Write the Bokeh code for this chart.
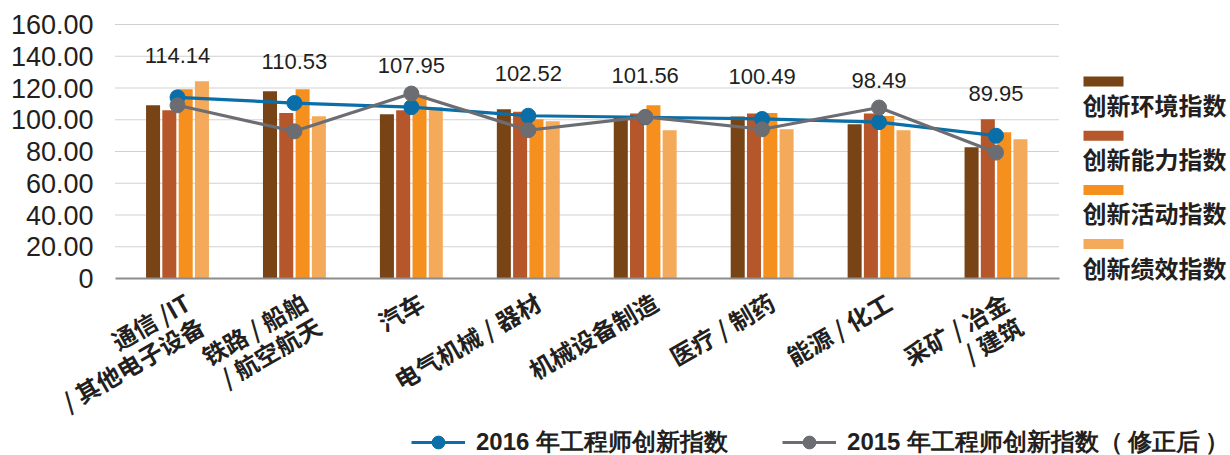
import math
from bokeh.plotting import figure
from bokeh.models import (ColumnDataSource, Range1d, FixedTicker, NumeralTickFormatter,
                          LabelSet, Legend, LegendItem)
from bokeh.transform import dodge
from bokeh.core.properties import value
from bokeh.embed import file_html
from bokeh.resources import INLINE

# ---------------- data ----------------
cat_line1 = ["通信 /IT", "铁路 / 船舶", "汽车", "电气机械 / 器材", "机械设备制造",
             "医疗 / 制药", "能源 / 化工", "采矿 / 冶金"]
cat_line2 = ["/ 其他电子设备", "/ 航空航天", "", "", "", "", "", "/ 建筑"]

env_idx = [109.1, 118.0, 103.5, 106.6, 102.0, 102.0, 97.2, 82.6]     # 创新环境指数
cap_idx = [106.0, 104.3, 106.0, 105.0, 104.0, 104.0, 103.9, 100.3]   # 创新能力指数
act_idx = [119.2, 119.2, 115.5, 100.3, 109.1, 104.3, 102.4, 92.1]    # 创新活动指数
perf_idx = [124.3, 102.2, 108.1, 99.1, 93.4, 94.0, 93.4, 87.7]       # 创新绩效指数

idx_2016 = [114.14, 110.53, 107.95, 102.52, 101.56, 100.49, 98.49, 89.95]
idx_2015 = [109.1, 92.7, 116.5, 93.4, 101.8, 94.0, 107.7, 79.3]

bar_names = ["创新环境指数", "创新能力指数", "创新活动指数", "创新绩效指数"]
line_names = ["2016 年工程师创新指数", "2015 年工程师创新指数（\u2009修正后\u2009）"]
y_ticks = [0, 20, 40, 60, 80, 100, 120, 140, 160]

# ---------------- style ----------------
bar_colors = ["#784416", "#b5572a", "#f5901f", "#f4aa5b"]
blue = "#0a6ea8"
gray = "#6b6d72"
txt = "#231f20"
W, H = 1230, 455

# chart area geometry (canvas px); the plotting frame covers the whole canvas
C_LEFT, C_RIGHT, C_TOP, C_BOTTOM = 115, 1059, 24, 278
X0_PX, X_STEP = 177.0, 116.93
Y_SCALE = (C_BOTTOM - C_TOP) / 160.0


def px2x(px):
    return (px - X0_PX) / X_STEP


def py2y(py):
    return (C_BOTTOM - py) / Y_SCALE


p = figure(width=W, height=H, output_backend="svg", toolbar_location=None,
           x_range=Range1d(px2x(0), px2x(W)), y_range=Range1d(py2y(H), py2y(0)),
           min_border_left=0, min_border_right=0, min_border_top=0, min_border_bottom=0)
p.outline_line_color = None
p.background_fill_color = "white"
p.border_fill_color = "white"
p.xgrid.visible = False
p.ygrid.visible = False

xs = list(range(len(cat_line1)))
src = ColumnDataSource(dict(
    x=xs, env=env_idx, cap=cap_idx, act=act_idx, perf=perf_idx,
    y16=idx_2016, y15=idx_2015,
    lbl=[f"{v:.2f}" for v in idx_2016],
    zero=[0] * len(xs), l1=cat_line1, l2=cat_line2,
))

# ---------------- axes (fixed inside the frame) ----------------
yax = p.yaxis[0]
yax.fixed_location = px2x(C_LEFT)
yax.bounds = (0, 160)
yax.ticker = FixedTicker(ticks=y_ticks)
yax.formatter = NumeralTickFormatter(format="0.00")
yax.major_label_overrides = {0: "0"}
yax.axis_line_color = None
yax.major_tick_line_color = None
yax.minor_tick_line_color = None
yax.major_tick_in = 0
yax.major_tick_out = 0
yax.major_label_standoff = 22
yax.major_label_text_font = "Liberation Sans"
yax.major_label_text_font_size = "27px"
yax.major_label_text_color = txt

xax = p.xaxis[0]
xax.fixed_location = 0
xax.bounds = (px2x(C_LEFT), px2x(C_RIGHT))
xax.ticker = FixedTicker(ticks=[])
xax.axis_line_color = "#8c8c8c"
xax.axis_line_width = 2
xax.major_tick_line_color = None
xax.minor_tick_line_color = None

# dotted horizontal grid lines, limited to the chart area
grid_src = ColumnDataSource(dict(y=y_ticks[1:],
                                 x0=[px2x(C_LEFT)] * (len(y_ticks) - 1),
                                 x1=[px2x(C_RIGHT)] * (len(y_ticks) - 1)))
p.segment(x0="x0", x1="x1", y0="y", y1="y", source=grid_src,
          line_color="#a3a3a3", line_dash="1 1", line_width=1)

# ---------------- bars ----------------
offsets = [-0.209, -0.07, 0.07, 0.209]
cols = ["env", "cap", "act", "perf"]
for col, off, c in zip(cols, offsets, bar_colors):
    p.vbar(x=dodge("x", off, range=p.x_range), top=col, bottom=0, width=0.12,
           source=src, fill_color=c, line_color=None)

# ---------------- lines ----------------
bl = p.line("x", "y16", source=src, line_color=blue, line_width=3.2)
bs = p.scatter("x", "y16", source=src, size=15, fill_color=blue, line_color=blue)
gl = p.line("x", "y15", source=src, line_color=gray, line_width=3.2)
gs = p.scatter("x", "y15", source=src, size=15, fill_color=gray, line_color=gray)

# data labels
p.add_layout(LabelSet(x="x", y="y16", text="lbl", source=src, y_offset=42,
                      text_align="center", text_baseline="middle",
                      text_font=value("Liberation Sans"), text_font_size="22px",
                      text_color=txt))

# category labels (rotated, two lines where needed)
ang = math.radians(30)
for col, dx, dy in (("l1", 10, -21), ("l2", 24, -45)):
    p.add_layout(LabelSet(x="x", y="zero", text=col, source=src, x_offset=dx, y_offset=dy,
                          angle=ang, text_align="right", text_baseline="middle",
                          text_font=value("Noto Sans CJK SC"), text_font_style="bold",
                          text_font_size="24px", text_color=txt))

# ---------------- right legend (swatch above name) ----------------
leg_src = ColumnDataSource(dict(
    left=[px2x(1083)] * 4, right=[px2x(1123)] * 4,
    top=[py2y(76 + 54.2 * i) for i in range(4)],
    bottom=[py2y(86 + 54.2 * i) for i in range(4)],
    color=bar_colors, name=bar_names,
    tx=[px2x(1082)] * 4, ty=[py2y(104 + 54.2 * i) for i in range(4)],
))
p.quad(left="left", right="right", top="top", bottom="bottom", fill_color="color",
       line_color=None, source=leg_src)
p.add_layout(LabelSet(x="tx", y="ty", text="name", source=leg_src,
                      text_align="left", text_baseline="middle",
                      text_font=value("Noto Sans CJK SC"), text_font_style="bold",
                      text_font_size="24px", text_color=txt))

# ---------------- bottom legend (lines) ----------------
legend = Legend(items=[LegendItem(label=line_names[0], renderers=[bl, bs]),
                       LegendItem(label=line_names[1], renderers=[gl, gs])],
                orientation="horizontal", location=(411, -3),
                glyph_width=54, glyph_height=32, label_standoff=11, spacing=54,
                padding=0, margin=0, border_line_color=None, background_fill_alpha=0,
                label_text_font="Liberation Sans", label_text_font_style="bold",
                label_text_font_size="24px", label_text_color=txt)
p.add_layout(legend)

with open("out.html", "w") as f:
    f.write(file_html(p, INLINE))
